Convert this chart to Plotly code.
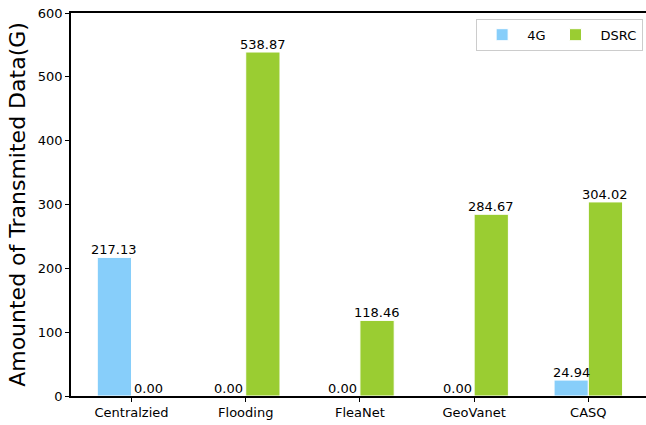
import plotly.graph_objects as go

categories = ["Centralzied", "Flooding", "FleaNet", "GeoVanet", "CASQ"]
values_4g = [217.13, 0.00, 0.00, 0.00, 24.94]
values_dsrc = [0.00, 538.87, 118.46, 284.67, 304.02]
y_ticks = [0, 100, 200, 300, 400, 500, 600]

FONT = "DejaVu Sans"
x_pos = list(range(len(categories)))
bw = 0.3

fig = go.Figure()
fig.add_trace(go.Bar(
    x=x_pos, y=values_4g, name="4G", width=bw, offset=-bw,
    marker=dict(color="#87CEFA", line=dict(color="white", width=1)),
))
fig.add_trace(go.Bar(
    x=x_pos, y=values_dsrc, name="DSRC", width=bw, offset=0,
    marker=dict(color="#9ACD32", line=dict(color="white", width=1)),
))

for vals, off in ((values_4g, -bw / 2), (values_dsrc, bw / 2)):
    for xi, v in zip(x_pos, vals):
        fig.add_annotation(
            x=xi + off, y=v, xref="x", yref="y", text=f"{v:.2f}",
            showarrow=False, yanchor="bottom", xanchor="center", yshift=-2,
            font=dict(family=FONT, size=13, color="black"),
        )

fig.update_layout(
    width=646, height=425,
    margin=dict(l=71, r=0, t=13, b=29),
    paper_bgcolor="white", plot_bgcolor="white",
    font=dict(family=FONT, size=13, color="black"),
    barmode="overlay",
    showlegend=True,
    legend=dict(
        orientation="h", x=0.995, y=0.985, xanchor="right", yanchor="top",
        bordercolor="#cccccc", borderwidth=1, bgcolor="rgba(255,255,255,0.8)",
        font=dict(family=FONT, size=13), itemwidth=40,
    ),
)
fig.update_xaxes(
    range=[-0.53, 4.505], tickvals=x_pos, ticktext=categories,
    showgrid=False, zeroline=False, showline=True, linecolor="black", linewidth=1.5,
    mirror=True, ticks="outside", ticklen=4, tickwidth=1.2, tickcolor="black",
    tickfont=dict(family=FONT, size=13),
)
fig.update_yaxes(
    range=[0, 600], tickvals=y_ticks,
    showgrid=False, zeroline=False, showline=True, linecolor="black", linewidth=1.5,
    ticks="outside", ticklen=4, tickwidth=1.2, tickcolor="black",
    tickfont=dict(family=FONT, size=13),
    title=dict(text="Amounted of Transmited Data(G)", font=dict(family=FONT, size=22), standoff=6),
)
fig.write_html("out.html")
